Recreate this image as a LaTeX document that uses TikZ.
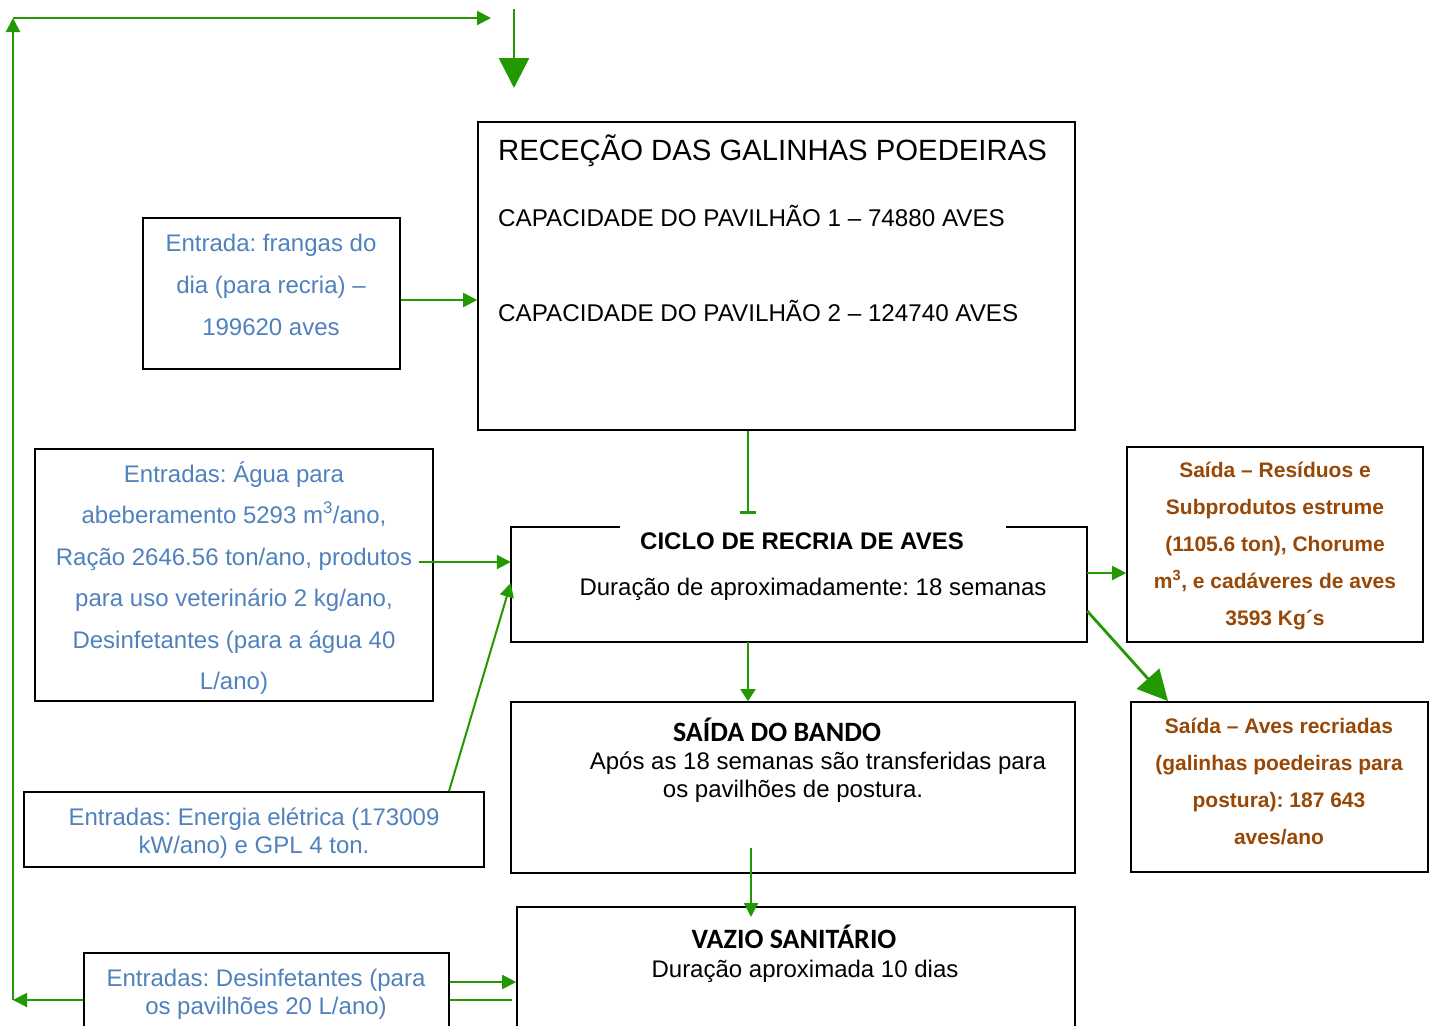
\documentclass[tikz,border=0pt]{standalone}
\usepackage{fontspec}
\setmainfont{Liberation Sans}
\newfontfamily\calib{Carlito}
\usetikzlibrary{arrows.meta}
\definecolor{grn}{RGB}{34,153,0}
\definecolor{blu}{RGB}{79,129,189}
\definecolor{brn}{RGB}{152,72,6}
\frenchspacing
\begin{document}
\begin{tikzpicture}[x=1pt,y=-1pt,
  box/.style={draw=black,line width=1.6pt,inner sep=0pt,rectangle},
  conn/.style={draw=grn,line width=2pt},
  arr/.style={conn,-{Triangle[length=14pt,width=14pt]}},
  smarr/.style={conn,-{Triangle[length=12pt,width=15pt]}},
  bigarr/.style={conn,-{Triangle[length=30pt,width=30pt]}},
  bt/.style={anchor=base,inner sep=0pt,text=blu,font=\fontsize{24}{24}\selectfont},
  kt/.style={anchor=base,inner sep=0pt,text=black,font=\fontsize{24}{24}\selectfont},
  kl/.style={kt,anchor=base west},
  kb/.style={kt,font=\fontsize{24}{24}\selectfont\bfseries},
  brt/.style={anchor=base,inner sep=0pt,text=brn,font=\fontsize{21}{21}\selectfont\bfseries},
  cal/.style={anchor=base,inner sep=0pt,text=black,font=\fontsize{28}{28}\selectfont\calib\bfseries},
]
\useasboundingbox (0,0) rectangle (1436,1026);

% boxes
\node[box,minimum width=597pt,minimum height=308pt] (rece) at (776.5,276) {};
\node[box,minimum width=257pt,minimum height=151pt] (frangas) at (271.5,293.5) {};
\node[box,minimum width=398pt,minimum height=252pt] (agua) at (234,575) {};
\node[rectangle,inner sep=0pt,minimum width=576pt,minimum height=115pt] (ciclo) at (799,584.5) {};
\node[box,minimum width=296pt,minimum height=195pt] (resid) at (1275,544.5) {};
\node[box,minimum width=564pt,minimum height=171pt] (saida) at (793,787.5) {};
\node[box,minimum width=297pt,minimum height=170pt] (aves) at (1279.5,787) {};
\node[box,minimum width=460pt,minimum height=75pt] (energ) at (254,829.5) {};
\node[box,minimum width=558pt,minimum height=125pt] (vazio) at (796,969.5) {};
\node[box,minimum width=365pt,minimum height=79pt] (desinf) at (266.5,992.5) {};

% ciclo border with gap for title
\coordinate (gapL) at (620,527);
\coordinate (gapR) at (1006,527);
\draw[line width=1.6pt] (gapL) -| (ciclo.south west) -- (ciclo.south east) |- (gapR);

% texts: rece
\node[kl,font=\fontsize{29.3}{29.3}\selectfont] (rt) at (498,160.5) {RECEÇÃO DAS GALINHAS POEDEIRAS};
\node[kl,font=\fontsize{24.2}{24.2}\selectfont] (r1) at (498,226.5) {CAPACIDADE DO PAVILHÃO 1 – 74880 AVES};
\node[kl,font=\fontsize{24.2}{24.2}\selectfont] (r2) at (498,321.5) {CAPACIDADE DO PAVILHÃO 2 – 124740 AVES};

% frangas
\node[bt] (f1) at (271,251) {Entrada: frangas do};
\node[bt] (f2) at (271,293) {dia (para recria) –};
\node[bt] (f3) at (271,335) {199620 aves};

% agua
\node[bt] (a1) at (234,482) {Entradas: Água para};
\node[bt] (a2) at (234,523) {abeberamento 5293 m\textsuperscript{3}/ano,};
\node[bt] (a3) at (234,565) {Ração 2646.56 ton/ano, produtos};
\node[bt] (a4) at (234,606) {para uso veterinário 2 kg/ano,};
\node[bt] (a5) at (234,648) {Desinfetantes (para a água 40};
\node[bt] (a6) at (234,689) {L/ano)};

% energia
\node[bt] (e1) at (254,825) {Entradas: Energia elétrica (173009};
\node[bt] (e2) at (254,853) {kW/ano) e GPL 4 ton.};

% desinf
\node[bt] (d1) at (266,986) {Entradas: Desinfetantes (para};
\node[bt] (d2) at (266,1014) {os pavilhões 20 L/ano)};

% ciclo
\node[kb] (ct) at (802,549.5) {CICLO DE RECRIA DE AVES};
\node[kt] (c1t) at (813,595) {Duração de aproximadamente: 18 semanas};

% saida
\node[cal] (st) at (777,741) {SAÍDA DO BANDO};
\node[kt] (s1) at (818,769) {Após as 18 semanas são transferidas para};
\node[kt] (s2) at (793,797) {os pavilhões de postura.};

% vazio
\node[cal] (vt) at (794,948) {VAZIO SANITÁRIO};
\node[kt] (v1) at (805,977) {Duração aproximada 10 dias};

% residuos
\node[brt] (re1) at (1275,477) {Saída – Resíduos e};
\node[brt] (re2) at (1275,514) {Subprodutos estrume};
\node[brt] (re3) at (1275,551) {(1105.6 ton), Chorume};
\node[brt] (re4) at (1275,588) {m\textsuperscript{3}, e cadáveres de aves};
\node[brt] (re5) at (1275,625) {3593 Kg´s};

% aves
\node[brt] (av1) at (1279,733) {Saída – Aves recriadas};
\node[brt] (av2) at (1279,770) {(galinhas poedeiras para};
\node[brt] (av3) at (1279,807) {postura): 187 643};
\node[brt] (av4) at (1279,844) {aves/ano};

% connectors
\draw[arr] (frangas.east |- 0,300) -- (rece.west |- 0,300);
\coordinate (barend) at (748,514);
\draw[conn,-{Bar[width=16pt,line width=3pt]}] (rece.south -| barend) -- (barend);
\coordinate (aguaout) at (419,562);
\draw[arr] (aguaout) -- (ciclo.west |- aguaout);
\coordinate (enout) at (449,792);
\draw[arr] (energ.north -| enout) -- (ciclo.west |- 0,583);
\draw[arr] (ciclo.east |- 0,573) -- (resid.west |- 0,573);
\coordinate (avtip) at (1168,701);
\draw[bigarr,line width=2.8pt] (ciclo.east |- 0,611) -- (avtip);
\coordinate (sdx) at (748,0);
\draw[smarr] (ciclo.south -| sdx) -- (saida.north -| sdx);
\coordinate (sd) at (751,848);
\coordinate (sdt) at (751,917);
\draw[arr] (sd) -- (sdt);
\draw[arr] (desinf.east |- 0,982) -- (vazio.west |- 0,982);
\coordinate (dl) at (512,1000);
\draw[conn] (desinf.east |- dl) -- (dl);
\coordinate (lp1) at (13,1000);
\coordinate (lp2) at (13,18);
\coordinate (lp3) at (491,18);
\draw[arr] (desinf.west |- lp1) -- (lp1);
\draw[arr] (lp1) -- (lp2);
\draw[arr] (lp2) -- (lp3);
\coordinate (t1) at (514,9);
\coordinate (t2) at (514,88);
\draw[bigarr,line width=2.6pt] (t1) -- (t2);
\end{tikzpicture}
\end{document}
